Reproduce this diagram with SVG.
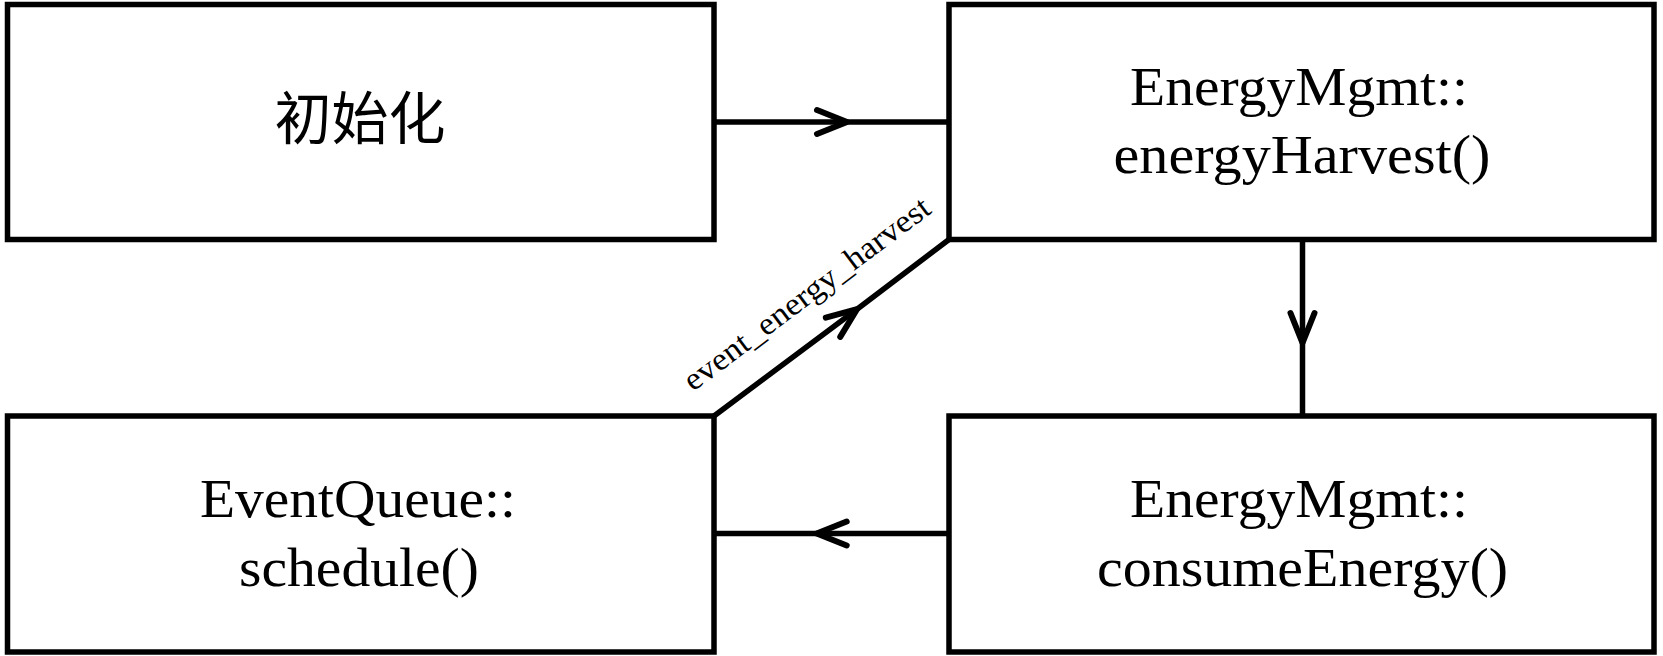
<svg xmlns="http://www.w3.org/2000/svg" width="1663" height="656" viewBox="0 0 1663 656">
  <style>
    .box { fill: #ffffff; stroke: #000000; stroke-width: 5.5; }
    .lbl { font-family: "Liberation Serif", "Times New Roman", serif; font-size: 55px; fill: #000000; text-anchor: middle; }
    .cjk { font-family: "Liberation Serif", "Noto Sans CJK SC", serif; font-size: 57px; fill: #000000; text-anchor: middle; }
    .edge { fill: none; stroke: #000000; stroke-width: 5.5; marker-mid: url(#chev); }
    .elbl { font-family: "Liberation Serif", "Times New Roman", serif; font-size: 32px; fill: #000000; text-anchor: middle; }
  </style>
  <defs>
    <marker id="chev" markerUnits="userSpaceOnUse" orient="auto" markerWidth="40" markerHeight="40" refX="0" refY="0" viewBox="-36 -18 40 36" overflow="visible">
      <path d="M -30 -12 L 0 0 L -30 12" fill="none" stroke="#000000" stroke-width="6" stroke-linecap="round" stroke-linejoin="round"/>
    </marker>
  </defs>
  <rect width="1663" height="656" fill="#ffffff"/>

  <g id="connectors">
    <path class="edge" d="M 714 122 L 847 122 L 949 122"/>
    <path class="edge" d="M 1302.5 239.5 L 1302.5 343 L 1302.5 416"/>
    <path class="edge" d="M 949 533.5 L 816.7 533.5 L 714 533.5"/>
    <path class="edge" d="M 714 416 L 857 309.2 L 949 239.5"/>
    <text class="elbl" x="813" y="302" transform="rotate(-36.9 813 302)" textLength="300" lengthAdjust="spacingAndGlyphs">event_energy_harvest</text>
  </g>

  <g id="node-init">
    <rect class="box" x="7.5" y="4.5" width="706.5" height="235"/>
    <text class="cjk" x="360" y="139">初始化</text>
  </g>

  <g id="node-harvest">
    <rect class="box" x="949" y="4.5" width="705" height="235"/>
    <text class="lbl" x="1299" y="105" textLength="338" lengthAdjust="spacingAndGlyphs">EnergyMgmt::</text>
    <text class="lbl" x="1302" y="173" textLength="377" lengthAdjust="spacingAndGlyphs">energyHarvest()</text>
  </g>

  <g id="node-schedule">
    <rect class="box" x="7.5" y="416" width="706.5" height="236"/>
    <text class="lbl" x="358" y="517" textLength="316" lengthAdjust="spacingAndGlyphs">EventQueue::</text>
    <text class="lbl" x="359" y="586" textLength="240" lengthAdjust="spacingAndGlyphs">schedule()</text>
  </g>

  <g id="node-consume">
    <rect class="box" x="949" y="416" width="705" height="236"/>
    <text class="lbl" x="1299" y="517" textLength="338" lengthAdjust="spacingAndGlyphs">EnergyMgmt::</text>
    <text class="lbl" x="1302.5" y="586" textLength="411" lengthAdjust="spacingAndGlyphs">consumeEnergy()</text>
  </g>
</svg>
